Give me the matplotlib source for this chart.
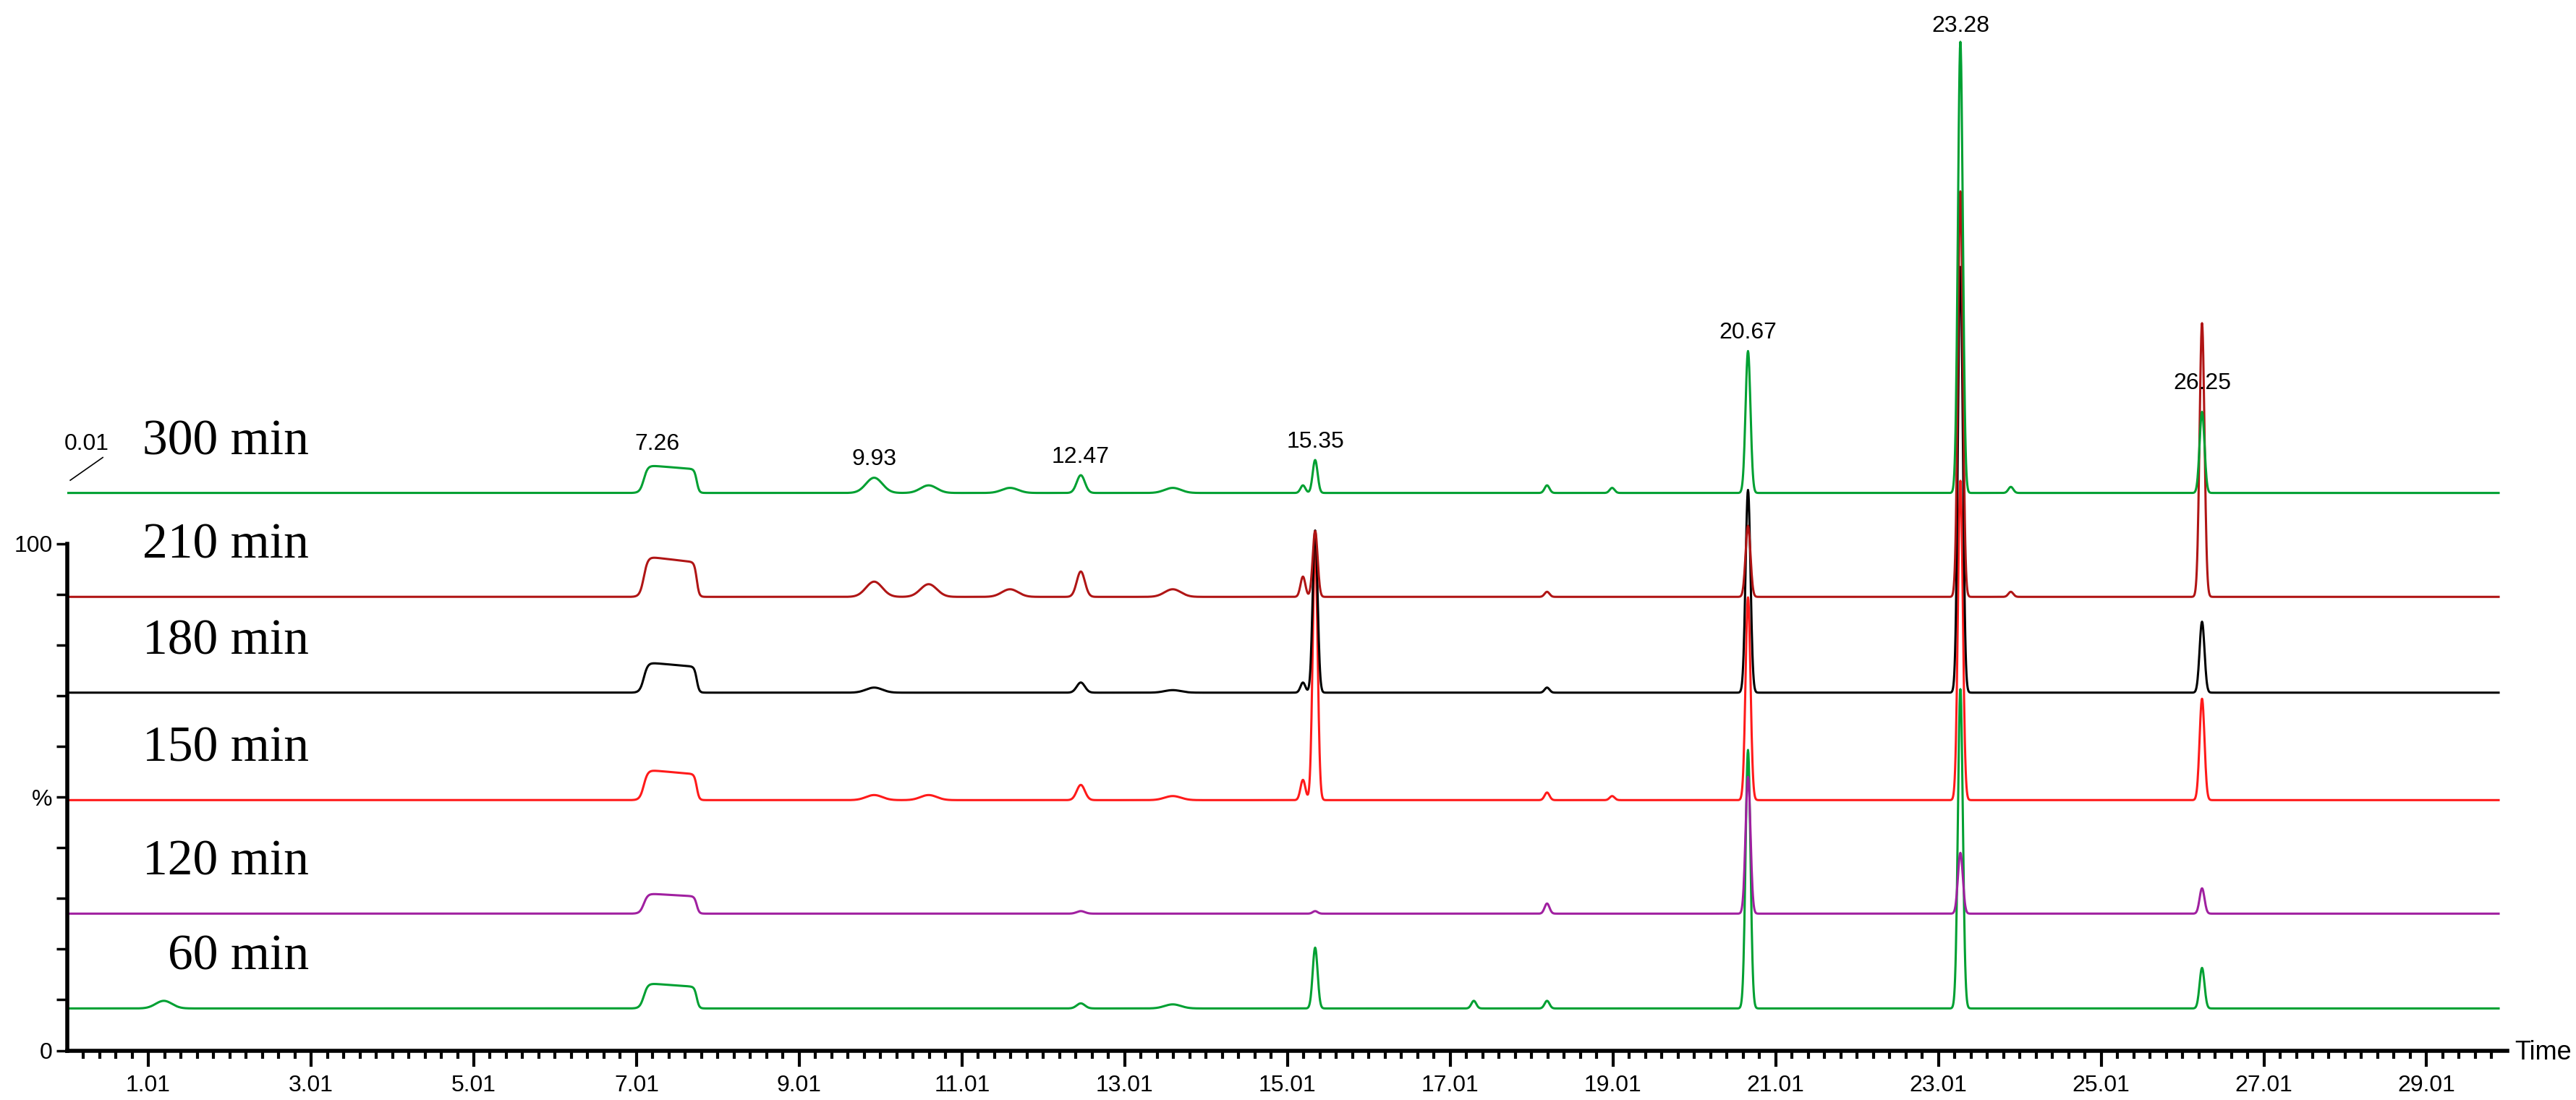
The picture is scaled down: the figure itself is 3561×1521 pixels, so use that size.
import numpy as np
import matplotlib.pyplot as plt
from matplotlib.ticker import FixedLocator

# traces, bottom to top
labels = ["60 min", "120 min", "150 min", "180 min", "210 min", "300 min"]
colors = ["#00a032", "#a020a0", "#ff1a1a", "#000000", "#b01515", "#00a032"]
baselines = [8.3, 27.0, 49.4, 70.6, 89.5, 110.0]

# sharp peaks (retention time, height above baseline) per trace
peak_times = [1.2, 9.93, 10.6, 11.6, 12.47, 13.6, 15.2, 15.35, 17.3, 18.2, 19.0, 20.67, 23.28, 23.9, 26.25]
peak_heights = {
    "60 min":  [1.5, 0.0, 0.0, 0.0, 1.0, 0.8, 0.0, 12.0, 1.5, 1.5, 0.0, 51.0, 63.0, 0.0, 8.0],
    "120 min": [0.0, 0.0, 0.0, 0.0, 0.5, 0.0, 0.0, 0.5, 0.0, 2.0, 0.0, 27.0, 12.0, 0.0, 5.0],
    "150 min": [0.0, 1.0, 1.0, 0.0, 3.0, 0.8, 4.0, 50.0, 0.0, 1.5, 0.8, 40.0, 63.0, 0.0, 20.0],
    "180 min": [0.0, 1.0, 0.0, 0.0, 2.0, 0.5, 2.0, 32.0, 0.0, 1.0, 0.0, 40.0, 84.0, 0.0, 14.0],
    "210 min": [0.0, 3.0, 2.5, 1.5, 5.0, 1.5, 4.0, 13.0, 0.0, 1.0, 0.0, 14.0, 80.0, 1.0, 54.0],
    "300 min": [0.0, 3.0, 1.5, 1.0, 3.5, 1.0, 1.5, 6.5, 0.0, 1.5, 1.0, 28.0, 89.0, 1.2, 16.0],
}
# broad hump around 7.26 min
hump_heights = [5.0, 4.0, 6.0, 6.0, 8.0, 5.5]

peak_labels = ["0.01", "7.26", "9.93", "12.47", "15.35", "20.67", "23.28", "26.25"]
label_pos = [(0.25, 117.5), (7.26, 117.5), (9.93, 114.5), (12.47, 115.0), (15.35, 118.0),
             (20.67, 139.5), (23.28, 200.0), (26.25, 129.5)]

x = np.arange(0.01, 29.9, 0.005)


def trace(base, heights, hump):
    y = np.full_like(x, base)
    for t, h in zip(peak_times, heights):
        w = 0.1 if t < 14 else 0.03
        if t == 12.47:
            w = 0.05
        y += h * np.exp(-0.5 * ((x - t) / w) ** 2)
    # flat-topped hump 7.05-7.75
    y += hump * 0.5 * (np.tanh((x - 7.1) / 0.05) - np.tanh((x - 7.75) / 0.03)) * (1.0 - 0.15 * (x - 7.1) / 0.65)
    return y


fig = plt.figure(figsize=(35.62, 15.21), dpi=100)
ax = fig.add_axes([0.026, 0.045, 0.947, 0.94])

for lab, col, base, hump in zip(labels, colors, baselines, hump_heights):
    ax.plot(x, trace(base, peak_heights[lab], hump), color=col, lw=2.2)
    ax.text(2.98, base + 5.5, lab, fontsize=50, family="Liberation Serif", va="bottom", ha="right")

for txt, (px, py) in zip(peak_labels, label_pos):
    ax.text(px, py, txt, fontsize=23, family="Liberation Sans", ha="center", va="bottom")
ax.plot([0.05, 0.45], [112.5, 117.0], color="black", lw=1.2)

ax.set_xlim(0.01, 30.0)
ax.set_ylim(0, 204)
for s in ["top", "right"]:
    ax.spines[s].set_visible(False)
ax.spines["left"].set_bounds(0, 100)
ax.spines["left"].set_linewidth(4)
ax.spines["bottom"].set_linewidth(4)

ax.xaxis.set_major_locator(FixedLocator(np.arange(1.01, 30, 2)))
ax.xaxis.set_minor_locator(FixedLocator(np.arange(0.21, 30, 0.2)))
ax.set_xticklabels([f"{v:.2f}" for v in np.arange(1.01, 30, 2)], fontsize=23, family="Liberation Sans")
ax.tick_params(axis="x", which="major", length=16, width=3, pad=8)
ax.tick_params(axis="x", which="minor", length=8, width=3)

ax.yaxis.set_major_locator(FixedLocator([0, 50, 100]))
ax.yaxis.set_minor_locator(FixedLocator(np.arange(10, 100, 10)))
ax.set_yticklabels(["0", "%", "100"], fontsize=23, family="Liberation Sans")
ax.tick_params(axis="y", which="both", length=11, width=2.5)

fig.text(0.976, 0.043, "Time", fontsize=26, family="Liberation Sans", va="center", ha="left")

fig.savefig("out.png", dpi=100)
